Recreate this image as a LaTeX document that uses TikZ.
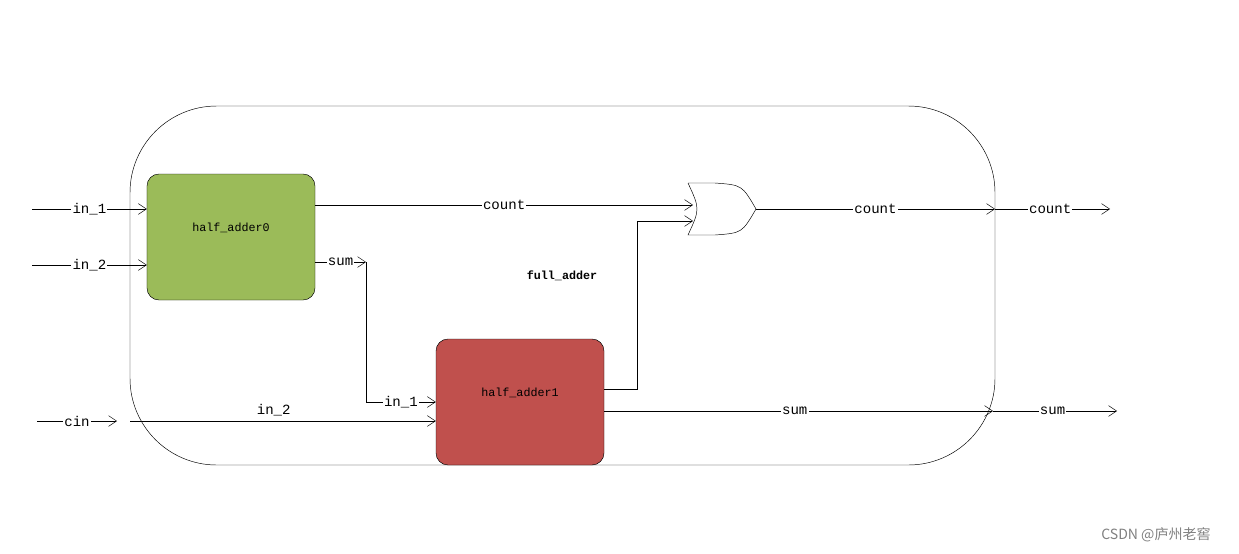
\documentclass[tikz,border=0pt]{standalone}
\usepackage{fontspec}
\setmonofont{Liberation Mono}
\newfontfamily\cjk{Noto Sans CJK SC}
\usepackage{tikz}
\usetikzlibrary{positioning,arrows.meta}

\begin{document}
\begin{tikzpicture}[x=0.03cm,y=-0.03cm,
  block/.style={draw=black,rounded corners=0.36cm,minimum width=5.04cm,minimum height=3.78cm,inner sep=0pt},
  lbl/.style={fill=white,inner sep=1pt,font=\ttfamily\large},
  wire/.style={black,-{Straight Barb[length=2.4mm,width=3.2mm]}}]
\useasboundingbox (0,0) rectangle (1239,553);

% BOUNDARY
  \draw[black,rounded corners=2.6cm] (130,106) rectangle (995,465);
  \node[font=\ttfamily\bfseries] (fa) at (562,276) {full\_adder};

% BLOCKS
  \node[block,fill={rgb,255:red,155;green,187;blue,89}] (ha0) at (231,237) {};
  \node[font=\ttfamily] (ha0t) at (231,228) {half\_adder0};
  \node[block,fill={rgb,255:red,192;green,80;blue,77}] (ha1) at (520,402) {};
  \node[font=\ttfamily] (ha1t) at (520,393) {half\_adder1};

% OR GATE
  \draw[black] (688,183) -- (715,183) .. controls (742,185) .. (756,209)
    .. controls (742,233) .. (715,235) -- (688,235) .. controls (700,209) .. (688,183);
  \coordinate (orA) at (693,205);
  \coordinate (orB) at (693,221);
  \coordinate (orQ) at (756,209);

% PORTS
  \coordinate (in1) at (32,209);
  \coordinate (in2) at (32,265);
  \coordinate (cinS) at (37,421);
  \coordinate (cinE) at (117,421);
  \coordinate (cinB) at (130,421);
  \coordinate (sumE) at (366,262);
  \coordinate (cntB) at (995,209);
  \coordinate (cntE) at (1110,209);
  \coordinate (sumB) at (993,411);
  \coordinate (sumO) at (1117,411);

% INPUTS
  \draw[wire] (in1) -- (ha0.west |- in1) node[lbl,pos=0.5] {in\_1};
  \draw[wire] (in2) -- (ha0.west |- in2) node[lbl,pos=0.5] {in\_2};
  \draw[wire] (cinS) -- (cinE) node[lbl,pos=0.5] {cin};
  \draw[wire] (cinB) -- (ha1.west |- cinB) node[lbl,pos=0.47,yshift=0.33cm] {in\_2};

% INTERNAL
  \draw[wire] (ha0.east |- orA) -- (orA) node[lbl,pos=0.5] {count};
  \draw[wire] (ha0.east |- sumE) -- (sumE) node[lbl,pos=0.5] {sum};
  \draw[wire] (sumE) -- (366,402) -- (ha1.west |- 0,402) node[lbl,pos=0.5] {in\_1};
  \draw[wire] (ha1.east |- 0,389) -- (637,389) -- (637,221) -- (orB);

% OUTPUTS
  \draw[wire] (orQ) -- (cntB) node[lbl,pos=0.5] {count};
  \draw[wire] (cntB) -- (cntE) node[lbl,pos=0.48] {count};
  \draw[wire] (ha1.east |- sumB) -- (sumB) node[lbl,pos=0.49] {sum};
  \draw[wire] (sumB) -- (sumO) node[lbl,pos=0.48] {sum};

  \node[font=\cjk\large,text=gray] (mark) at (1156,535) {CSDN @庐州老窖};
\end{tikzpicture}
\end{document}
